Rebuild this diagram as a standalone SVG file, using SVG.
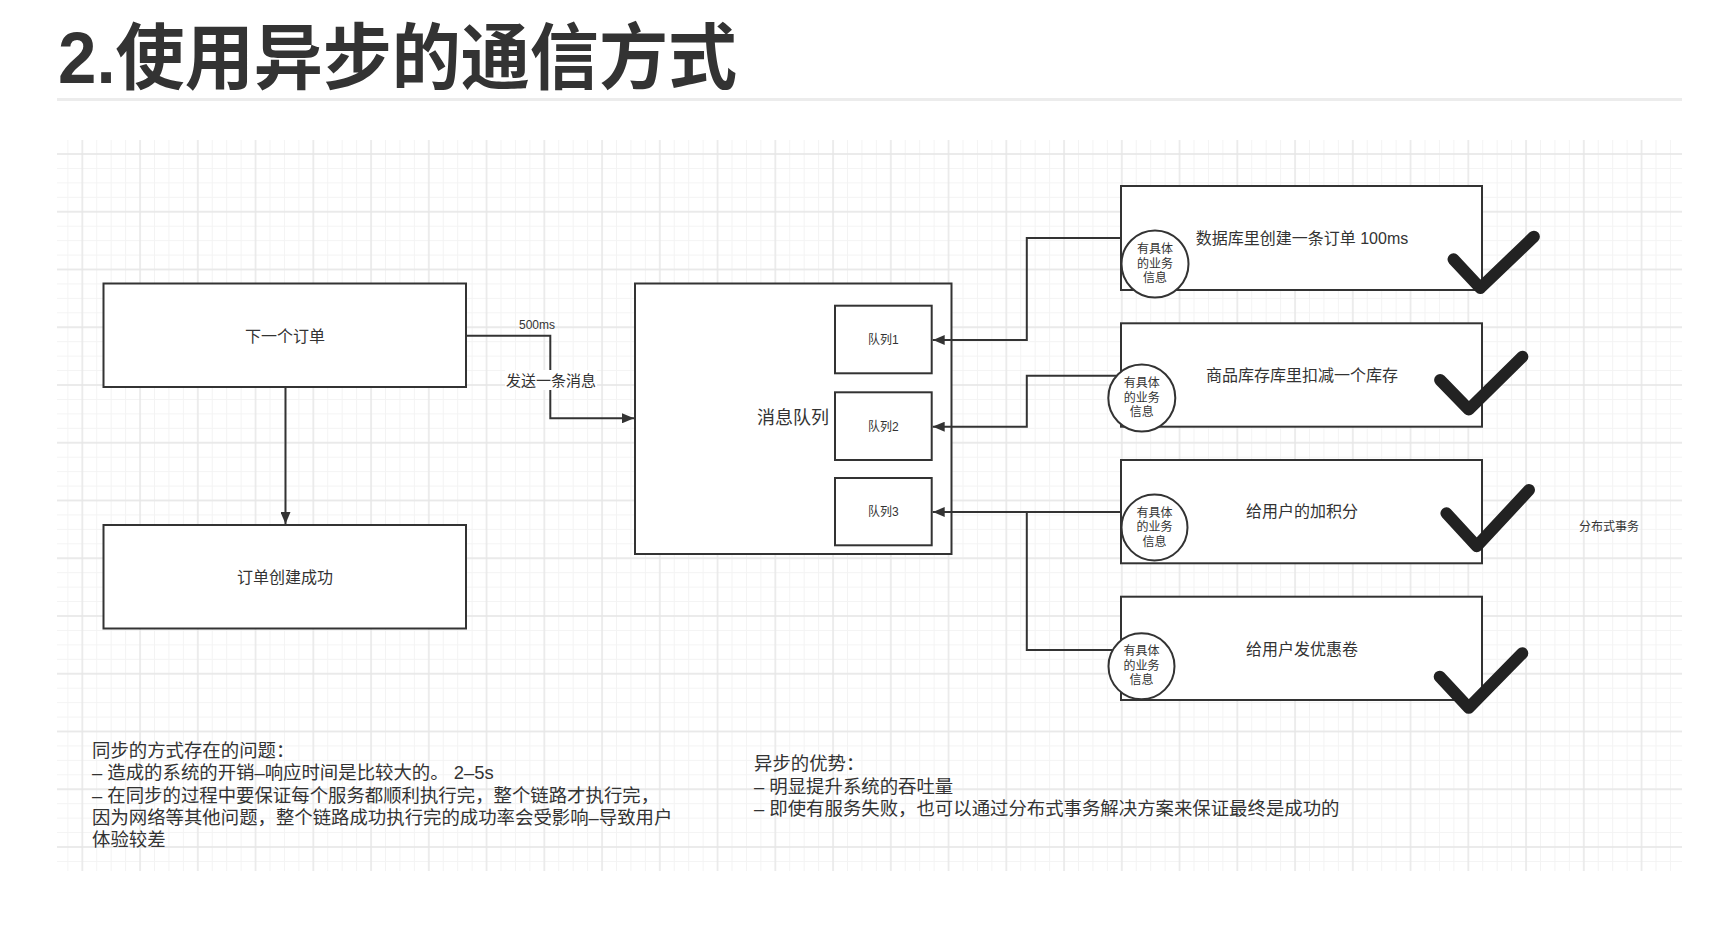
<svg xmlns="http://www.w3.org/2000/svg" width="1732" height="937" viewBox="0 0 1732 937">
<defs>
<style>
.t{font-family:"Liberation Sans","Noto Sans CJK SC",sans-serif;fill:#333;}
.box{fill:#fff;stroke:#333;stroke-width:2;}
.circ{fill:#fff;stroke:#333;stroke-width:2;}
.conn{fill:none;stroke:#333;stroke-width:2;}
.chk{fill:none;stroke:#222;stroke-width:12;stroke-linecap:round;stroke-linejoin:round;}
.c16{font-size:16px;text-anchor:middle;dominant-baseline:central;}
.c12{font-size:12px;text-anchor:middle;dominant-baseline:central;}
.note{font-size:18.4px;}
</style>
<pattern id="minor" patternUnits="userSpaceOnUse" x="75.08" y="146.78" width="14.4375" height="14.4375">
<path d="M7.22 0V14.4375M0 7.22H14.4375" stroke="#f3f3f3" stroke-width="1"/>
</pattern>
<pattern id="major" patternUnits="userSpaceOnUse" x="53.42" y="125.12" width="57.75" height="57.75">
<path d="M28.88 0V57.75M0 28.88H57.75" stroke="#e6e6e6" stroke-width="1.3"/>
</pattern>
<marker id="arr" viewBox="0 0 12 10" refX="12" refY="5" markerWidth="12" markerHeight="10" markerUnits="userSpaceOnUse" orient="auto">
<path d="M0 0L12 5L0 10z" fill="#333"/>
</marker>
</defs>
<rect width="1732" height="937" fill="#fff"/>
<text class="t" x="58" y="83" font-size="72" font-weight="bold" textLength="679" lengthAdjust="spacingAndGlyphs">2.使用异步的通信方式</text>
<rect x="57" y="98" width="1625" height="3" fill="#ececec"/>
<g id="grid">
<rect x="57" y="140" width="1625" height="731" fill="url(#minor)"/>
<rect x="57" y="140" width="1625" height="731" fill="url(#major)"/>
</g>
<g id="order">
<rect class="box" x="103.5" y="283.5" width="362.5" height="103.5"/>
<text class="t c16" x="285" y="336">下一个订单</text>
</g>
<g id="orderok">
<rect class="box" x="103.5" y="525" width="362.5" height="103.5"/>
<text class="t c16" x="285" y="577">订单创建成功</text>
</g>
<g id="mq">
<rect class="box" x="635" y="283.5" width="316.5" height="270.5"/>
<text class="t" x="793" y="418" font-size="18" text-anchor="middle" dominant-baseline="central">消息队列</text>
</g>
<g id="q1">
<rect class="box" x="835" y="305.7" width="96.7" height="67.6"/>
<text class="t c12" x="883.3" y="340">队列1</text>
</g>
<g id="q2">
<rect class="box" x="835" y="392.3" width="96.7" height="67.7"/>
<text class="t c12" x="883.3" y="426.5">队列2</text>
</g>
<g id="q3">
<rect class="box" x="835" y="478" width="96.7" height="67.3"/>
<text class="t c12" x="883.3" y="512">队列3</text>
</g>
<g id="svc1">
<rect class="box" x="1121" y="186" width="361" height="104"/>
<text class="t c16" x="1302" y="238">数据库里创建一条订单 100ms</text>
<ellipse class="circ" cx="1155" cy="264" rx="33.5" ry="33.5"/>
<text class="t c12" x="1155" y="249">有具体</text>
<text class="t c12" x="1155" y="263.5">的业务</text>
<text class="t c12" x="1155" y="278">信息</text>
<path class="chk" d="M1453.5 259.3L1480.3 288L1533.9 236.7"/>
</g>
<g id="svc2">
<rect class="box" x="1121" y="323.3" width="361" height="103.4"/>
<text class="t c16" x="1302" y="375.7">商品库存库里扣减一个库存</text>
<ellipse class="circ" cx="1141.8" cy="398" rx="33.5" ry="33.5"/>
<text class="t c12" x="1141.8" y="383">有具体</text>
<text class="t c12" x="1141.8" y="397.5">的业务</text>
<text class="t c12" x="1141.8" y="412">信息</text>
<path class="chk" d="M1440.1 380L1468.8 409.5L1522.4 356.7"/>
</g>
<g id="svc3">
<rect class="box" x="1121" y="460" width="361" height="103.3"/>
<text class="t c16" x="1302" y="511.7">给用户的加积分</text>
<ellipse class="circ" cx="1154.5" cy="527.5" rx="33" ry="33"/>
<text class="t c12" x="1154.5" y="512.5">有具体</text>
<text class="t c12" x="1154.5" y="527">的业务</text>
<text class="t c12" x="1154.5" y="541.5">信息</text>
<path class="chk" d="M1446.4 513.3L1476.8 546.2L1529 490"/>
</g>
<g id="svc4">
<rect class="box" x="1121" y="596.7" width="361" height="103.3"/>
<text class="t c16" x="1302" y="649.3">给用户发优惠卷</text>
<ellipse class="circ" cx="1141.5" cy="666.3" rx="33" ry="33"/>
<text class="t c12" x="1141.5" y="651.3">有具体</text>
<text class="t c12" x="1141.5" y="665.8">的业务</text>
<text class="t c12" x="1141.5" y="680.3">信息</text>
<path class="chk" d="M1439.7 676.7L1468.8 707.8L1522.3 653.3"/>
</g>
<g id="connectors">
<path class="conn" d="M285.5 388V524" marker-end="url(#arr)"/>
<path class="conn" d="M467 335.7H550.3V418.3H634" marker-end="url(#arr)"/>
<path class="conn" d="M1120 238H1026.8V340H932.7" marker-end="url(#arr)"/>
<path class="conn" d="M1116.8 375.7H1026.8V426.7H932.7" marker-end="url(#arr)"/>
<path class="conn" d="M1120 512H932.7" marker-end="url(#arr)"/>
<path class="conn" d="M1112.8 650H1026.8V512"/>
<text class="t" x="537" y="325" font-size="12" text-anchor="middle" dominant-baseline="central">500ms</text>
<rect x="505" y="370" width="92" height="20" fill="#fff"/>
<text class="t" x="551" y="380" font-size="15" text-anchor="middle" dominant-baseline="central">发送一条消息</text>
</g>
<g id="dtx">
<text class="t c12" x="1609" y="527">分布式事务</text>
</g>
<g id="notes-sync">
<text class="t note" x="92" y="756.5">同步的方式存在的问题：</text>
<text class="t note" x="92" y="779">– 造成的系统的开销–响应时间是比较大的。 2–5s</text>
<text class="t note" x="92" y="801.5">– 在同步的过程中要保证每个服务都顺利执行完，整个链路才执行完，</text>
<text class="t note" x="92" y="823.5">因为网络等其他问题，整个链路成功执行完的成功率会受影响–导致用户</text>
<text class="t note" x="92" y="845.5">体验较差</text>
</g>
<g id="notes-async">
<text class="t note" x="754" y="769.5">异步的优势：</text>
<text class="t note" x="754" y="793">– 明显提升系统的吞吐量</text>
<text class="t note" x="754" y="814.5">– 即使有服务失败，也可以通过分布式事务解决方案来保证最终是成功的</text>
</g>
</svg>
